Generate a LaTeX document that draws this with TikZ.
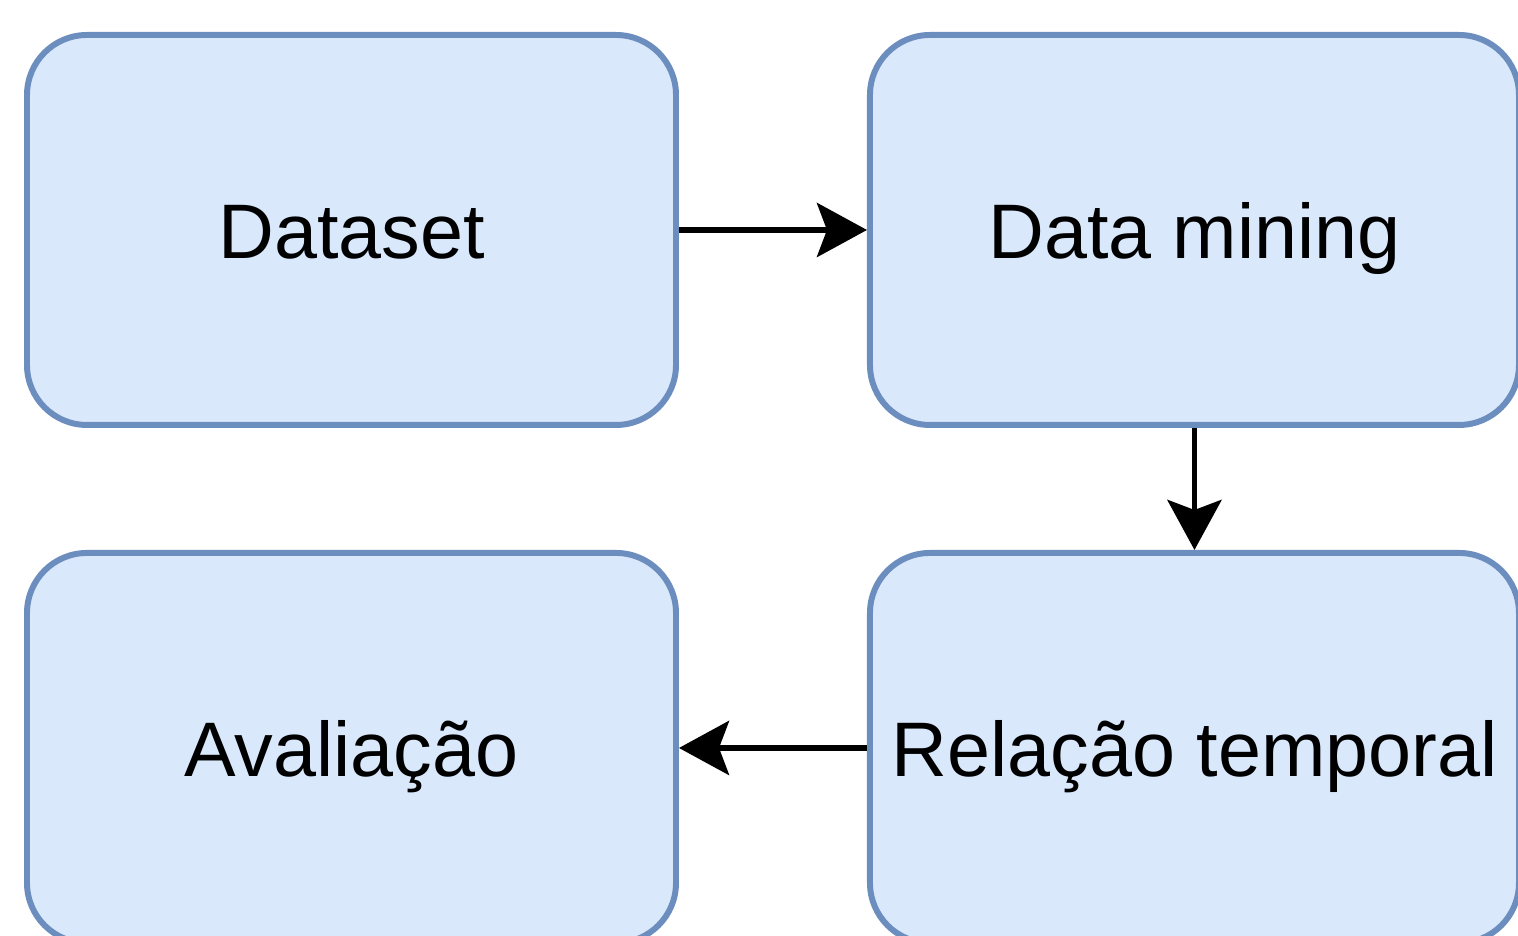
\documentclass[tikz,border=0pt]{standalone}
\usepackage{fontspec}
\setmainfont{Liberation Sans}
\usetikzlibrary{arrows.meta,positioning}
\definecolor{boxfill}{HTML}{DAE8FC}
\definecolor{boxline}{HTML}{6C8EBF}

\begin{document}
\begin{tikzpicture}
      [line width=1.7pt, >={Stealth[length=5mm, width=5.4mm, inset=1mm]},
      process/.style={rectangle, draw=boxline, fill=boxfill, rounded corners=6mm,
        minimum width=6.49cm, minimum height=3.9cm, align=center,
        text height=16pt, text depth=0pt,
        font=\fontsize{22}{26}\selectfont}]

      \useasboundingbox (0,0) rectangle (15.18,9.36);

      \node [process] (D) at (3.515,7.06) {Dataset};
      \node [process] (M) [right=1.88cm of D] {Data mining};
      \node [process] (R) [below=1.22cm of M] {Relação temporal};
      \node [process] (A) [left=1.88cm of R] {Avaliação};

      \draw [->] (D) -- (M);
      \draw [->] (M) -- (R);
      \draw [->] (R) -- (A);
    \end{tikzpicture}
\end{document}
